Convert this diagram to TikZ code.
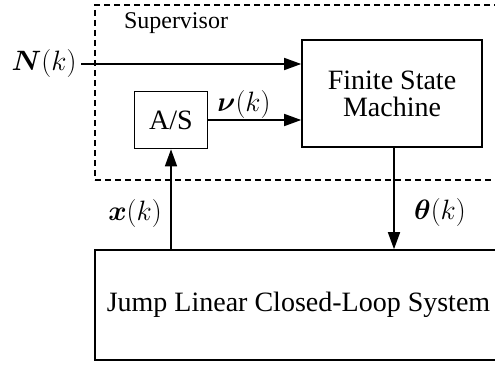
\RequirePackage{fix-cm}
\documentclass[tikz,border=0pt]{standalone}
\usepackage{amsmath}
\usepackage{bm}
\usepackage[no-math]{fontspec}
\setmainfont{Liberation Serif}
\usetikzlibrary{arrows.meta}
\begin{document}
\begin{tikzpicture}[x=1pt,y=-1pt,
  blk/.style={draw,line width=1.6pt,inner sep=0pt,font=\fontsize{28}{27}\selectfont,align=center},
  dsh/.style={draw,line width=1.2pt,dash pattern=on 6pt off 4pt},
  arr/.style={line width=1.6pt,-{Triangle[length=17pt,width=12pt]}},
  lab/.style={font=\fontsize{28}{30}\selectfont,inner sep=0pt}]
\useasboundingbox (0,0) rectangle (495,364);
\clip (0,0) rectangle (495,364);
% supervisor dashed region
\node[dsh,minimum width=410pt,minimum height=175pt,inner sep=0pt] (sup) at (300,92.5) {};
\node[font=\fontsize{24}{24}\selectfont,inner sep=0pt] (suplab) at (176,23) {Supervisor};
% blocks
\node[blk,minimum width=180pt,minimum height=107pt] (fsm) at (392,93.5) {Finite State\\Machine};
\node[blk,minimum width=73pt,minimum height=57pt] (as) at (171,120) {A/S};
\node[blk,minimum width=407pt,minimum height=110pt] (jl) at (298.5,305) {Jump Linear Closed-Loop System};
% labels
\node[lab] (nlab) at (44,63) {$\bm{N}(k)$};
\node[lab] (nulab) at (244,104) {$\bm{\nu}(k)$};
\node[lab] (xlab) at (135,213) {$\bm{x}(k)$};
\node[lab] (thlab) at (440,212) {$\bm{\theta}(k)$};
% connectors
\coordinate (nin) at (81,64);
\draw[arr] (nin) -- (nin -| fsm.west);
\draw[arr] (as.east) -- (as.east -| fsm.west);
\coordinate (thtop) at (394,0);
\draw[arr] (thtop |- fsm.south) -- (thtop |- jl.north);
\draw[arr] (as.south |- jl.north) -- (as.south);
\end{tikzpicture}
\end{document}
